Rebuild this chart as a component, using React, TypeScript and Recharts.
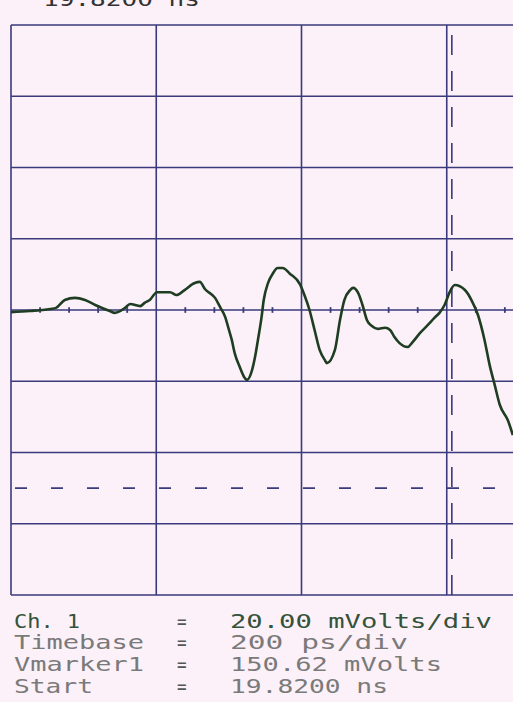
import React from "react";
import { LineChart, Line, XAxis, YAxis, ReferenceLine } from "recharts";

// time in ps, voltage in mV (relative to screen centre)
const timePs = [0, 26, 54, 62, 74, 88, 102, 116, 136, 143, 157, 164, 178, 184, 191, 201, 219, 228, 239, 253, 260, 267, 281, 288, 295, 299, 304, 308, 315, 322, 325, 332, 336, 340, 345, 348, 354, 361, 367, 374, 384, 398, 404, 411, 418, 425, 432, 435, 446, 453, 459, 467, 471, 478, 484, 490, 497, 505, 515, 522, 528, 535, 546, 553, 563, 574, 583, 590, 597, 604, 611, 625, 634, 643, 652, 659, 666, 673, 684, 691];
const voltMv = [-0.6, -0.3, 0.3, 0.6, 2.8, 3.4, 2.8, 1.4, -0.3, -0.8, 0.6, 1.7, 1.1, 2.0, 2.8, 5.0, 5.0, 4.2, 5.6, 7.6, 7.9, 5.9, 3.4, 0.8, -2.0, -4.8, -8.4, -12.1, -16.0, -19.1, -19.6, -16.8, -13.2, -8.4, -2.0, 2.8, 7.6, 10.4, 11.8, 11.8, 10.2, 7.2, 4.2, 0, -5.6, -11.2, -14.0, -14.9, -11.2, -2.8, 2.8, 5.6, 6.2, 4.8, 1.4, -2.8, -4.5, -5.3, -5.0, -5.6, -7.6, -9.3, -10.4, -9.0, -6.5, -4.2, -2.2, -0.8, 1.4, 5.0, 7.0, 5.6, 2.8, -1.4, -8.4, -15.4, -21.0, -26.6, -30.9, -35.1];

const xGrid = [0, 200, 400, 600, 800];
const yGrid = [-80, -60, -40, -20, 0, 20, 40, 60, 80];
const minorTicks = [40, 80, 120, 160, 240, 280, 320, 360, 440, 480, 520, 560, 640, 680, 720, 760];
const vMarkerMv = -50;
const tMarkerPs = 607;

const labelNames = ["Ch. 1", "Timebase", "Vmarker1", "Start"];
const labelValues = ["20.00 mVolts/div", "200  ps/div", "150.62 mVolts", "19.8200 ns"];
const topCutText = "19.8200 ns";

const data = timePs.map((t, i) => ({ t, v: voltMv[i] }));

const GRID = "#3a3a7c";
const BG = "#fcf1f8";

export default function App() {
  const nameWidths = [66, 130, 130, 79];
  const valueWidths = [262, 178, 212, 158];
  const colors = ["#35523a", "#7a7a7a", "#7a7a7a", "#7a7a7a"];
  const baselines = [628, 649, 671, 693];
  const sy = (b: number) => `translate(0 ${b}) scale(1 1.2) translate(0 ${-b})`;
  return (
    <div style={{ position: "absolute", left: 0, top: 0, width: 513, height: 702, overflow: "hidden", background: BG }}>
      <LineChart width={592} height={702} data={data} margin={{ top: 25, right: 0, bottom: 107, left: 11 }}>
        <XAxis type="number" dataKey="t" domain={[0, 800]} hide />
        <YAxis type="number" domain={[-80, 80]} hide />
        {yGrid.map((y) => (
          <ReferenceLine key={"h" + y} y={y} stroke={GRID} strokeWidth={1.6} ifOverflow="extendDomain" />
        ))}
        {xGrid.map((x) => (
          <ReferenceLine key={"v" + x} x={x} stroke={GRID} strokeWidth={1.6} ifOverflow="extendDomain" />
        ))}
        {minorTicks.map((x) => (
          <ReferenceLine key={"m" + x} segment={[{ x, y: -0.8 }, { x, y: 0.8 }]} stroke={GRID} strokeWidth={1.8} />
        ))}
        <ReferenceLine y={vMarkerMv} stroke={GRID} strokeWidth={1.6} strokeDasharray="12 24" strokeDashoffset={-4} />
        <ReferenceLine x={tMarkerPs} stroke={GRID} strokeWidth={1.6} strokeDasharray="20 16" />
        <Line type="monotone" dataKey="v" stroke="#1f3d22" strokeWidth={2.6} dot={false} isAnimationActive={false} />
      </LineChart>
      <svg width={513} height={702} style={{ position: "absolute", left: 0, top: 0 }}>
        <text x={43} y={6} fontFamily="DejaVu Sans Mono" fontSize={16} fill="#333" textLength={157} lengthAdjust="spacingAndGlyphs" transform={sy(6)}>{topCutText}</text>
        {labelNames.map((n, i) => (
          <g key={n} fontFamily="DejaVu Sans Mono" fontSize={16} fill={colors[i]}>
            <text x={14} y={baselines[i]} textLength={nameWidths[i]} lengthAdjust="spacingAndGlyphs" transform={sy(baselines[i])}>{n}</text>
            <text x={177} y={baselines[i]} fill="#555" transform={sy(baselines[i])}>=</text>
            <text x={230} y={baselines[i]} textLength={valueWidths[i]} lengthAdjust="spacingAndGlyphs" transform={sy(baselines[i])}>{labelValues[i]}</text>
          </g>
        ))}
      </svg>
    </div>
  );
}
